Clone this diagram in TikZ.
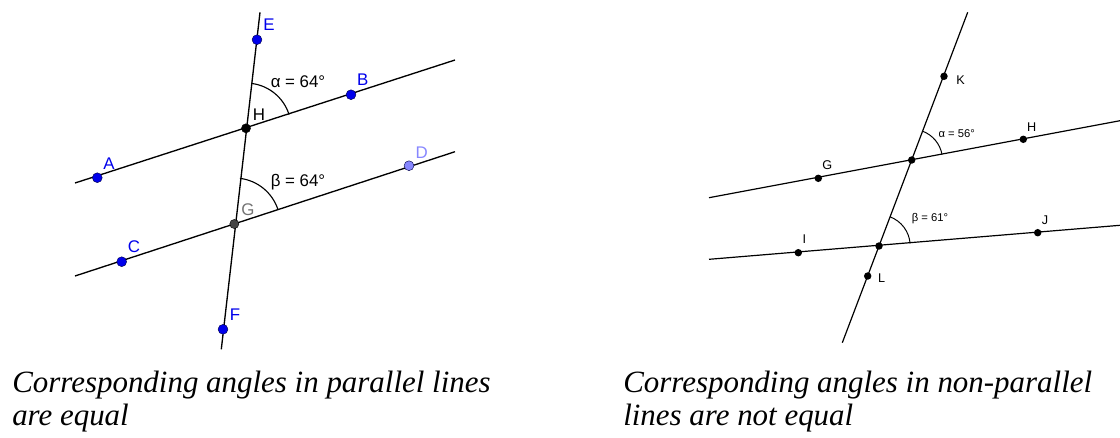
\documentclass[tikz,border=0pt]{standalone}
\usepackage{fontspec}
\setmainfont{Liberation Serif}
\setsansfont{Liberation Sans}
\usetikzlibrary{angles}
\definecolor{ptblue}{RGB}{0,0,235}
\definecolor{ptlight}{RGB}{135,135,255}
\definecolor{ptgrey}{RGB}{70,70,70}
\begin{document}
\begin{tikzpicture}[x=0.025cm, y=-0.025cm,
    ln/.style={line width=0.95pt, black},
    bpt/.style={circle, fill=ptblue, draw=black!70!ptblue, line width=0.3pt, inner sep=0pt, minimum size=7pt},
    kpt/.style={circle, fill=black, inner sep=0pt, minimum size=5.3pt},
    lab/.style={font=\sffamily\fontsize{12}{12}\selectfont, inner sep=0pt},
    rlab/.style={font=\sffamily\fontsize{9}{9}\selectfont, inner sep=0pt},
    arc/.style={draw, line width=0.8pt},
    caption/.style={font=\fontsize{22}{24}\selectfont\itshape, anchor=base west, inner sep=0pt}
]
\useasboundingbox (0,0) rectangle (1120,437);

% left figure: parallel lines
\coordinate (ab0) at (75,183);
\coordinate (ab1) at (455,60);
\coordinate (cd0) at (75,276);
\coordinate (cd1) at (455,151.7);
\coordinate (ef0) at (260,12.3);
\coordinate (ef1) at (221.3,349.3);
\draw[ln] (ab0) -- (ab1);
\draw[ln] (cd0) -- (cd1);
\draw[ln] (ef0) -- (ef1);

\node[bpt] (A) at (97.3,177.7) {};
\node[bpt] (B) at (351,94.7) {};
\node[bpt] (C) at (121.7,261.7) {};
\node[bpt, fill=ptlight] (D) at (409,165.7) {};
\node[bpt] (E) at (257,39.7) {};
\node[bpt] (F) at (223,329.3) {};
\node[bpt, fill=black, draw=black, minimum size=6.5pt] (H) at (246,128.3) {};
\node[bpt, fill=ptgrey, draw=black, minimum size=6.5pt] (G) at (234.3,224) {};

\pic[arc, angle radius=1.13cm] {angle=B--H--E};
\pic[arc, angle radius=1.15cm] {angle=D--G--E};

\node[lab, text=ptblue] (Alab) at (109,164) {A};
\node[lab, text=ptblue] (Blab) at (362.7,80) {B};
\node[lab, text=ptblue] (Clab) at (134,246.7) {C};
\node[lab, text=ptlight] (Dlab) at (421.7,152.7) {D};
\node[lab, text=ptblue] (Elab) at (269,25) {E};
\node[lab, text=ptblue] (Flab) at (235,314.3) {F};
\node[lab] (Hlab) at (259,115) {H};
\node[lab, text=black!55] (Glab) at (248,210) {G};
\node[lab] (alpha) at (298,81.7) {α = 64°};
\node[lab] (beta) at (298,181.7) {β = 64°};

% right figure: non-parallel lines
\coordinate (gh0) at (709,197.7);
\coordinate (gh1) at (1120,120.7);
\coordinate (ij0) at (709,259.3);
\coordinate (ij1) at (1120,225.3);
\coordinate (kl0) at (967.7,12.3);
\coordinate (kl1) at (842.3,342.7);
\draw[ln, line width=0.85pt] (gh0) -- (gh1);
\draw[ln, line width=0.85pt] (ij0) -- (ij1);
\draw[ln, line width=0.85pt] (kl0) -- (kl1);

\node[kpt] (K) at (944,76.3) {};
\node[kpt] (RG) at (818.3,178.3) {};
\node[kpt] (RH) at (1023.3,139.3) {};
\node[kpt] (X) at (911.7,160) {};
\node[kpt] (I) at (798.3,252.7) {};
\node[kpt] (J) at (1037.7,232.7) {};
\node[kpt] (Y) at (879,246) {};
\node[kpt] (L) at (867.7,276) {};

\pic[arc, line width=0.7pt, angle radius=0.77cm] {angle=RH--X--K};
\pic[arc, line width=0.7pt, angle radius=0.78cm] {angle=J--Y--X};

\node[rlab] (Klab) at (960.7,80) {K};
\node[rlab] (RGlab) at (827.3,165) {G};
\node[rlab] (RHlab) at (1031.7,126.7) {H};
\node[rlab] (Ilab) at (804.3,239.3) {I};
\node[rlab] (Jlab) at (1045,220) {J};
\node[rlab] (Llab) at (881.7,278.3) {L};
\node[rlab, font=\sffamily\fontsize{8}{8}\selectfont] (ralpha) at (956.7,133.3) {α = 56°};
\node[rlab, font=\sffamily\fontsize{8}{8}\selectfont] (rbeta) at (930,218.3) {β = 61°};

% captions
\node[caption] (capl1) at (12,392) {Corresponding angles in parallel lines};
\node[caption] (capl2) at (12,425) {are equal};
\node[caption] (capr1) at (623,392) {Corresponding angles in non-parallel};
\node[caption] (capr2) at (623,425) {lines are not equal};
\end{tikzpicture}
\end{document}
